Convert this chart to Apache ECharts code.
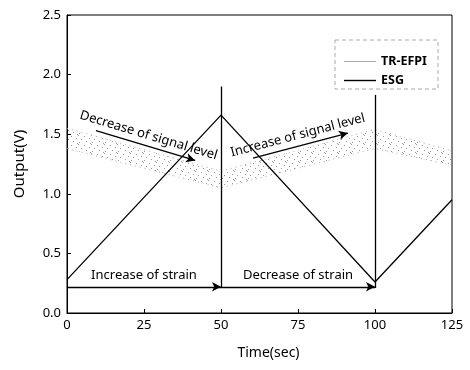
<!DOCTYPE html>
<html><head><meta charset="utf-8">
<script src="https://cdn.jsdelivr.net/npm/echarts@6/dist/echarts.min.js"></script>
<style>html,body{margin:0;padding:0;background:#fff}#c{width:470px;height:370px}</style>
</head><body><div id="c"></div>
<script>
// Data
const timeKnots = [0, 50, 100, 125];
const esgValues = [0.28, 1.66, 0.26, 0.95];
const efpiUpper = [1.55, 1.19, 1.54, 1.36];
const efpiLower = [1.38, 1.05, 1.38, 1.24];
const xTicks = [0, 25, 50, 75, 100, 125];
const yTicks = [0.0, 0.5, 1.0, 1.5, 2.0, 2.5];
const strainLevel = 0.22;
const markerTops = [[50, 1.9], [100, 1.83]];
const arrowDecrease = [[9.4, 1.53], [41.6, 1.28]];
const arrowIncrease = [[60.4, 1.30], [91.2, 1.51]];

const FONT = 'Noto Sans';

// speckle pattern for the band
const pat = document.createElement('canvas');
pat.width = 13; pat.height = 9;
const pc = pat.getContext('2d');
pc.fillStyle = '#9a9a9a';
[[0,0],[6,1],[11,3],[3,4],[8,6],[1,7],[12,8]].forEach(p => pc.fillRect(p[0], p[1], 1, 1));

const pairs = (xs, ys) => xs.map((x, i) => [x, ys[i]]);
const bandRows = timeKnots.map((t, i) => [t, efpiLower[i], efpiUpper[i]]);

const chart = echarts.init(document.getElementById('c'), null, {renderer: 'canvas'});
chart.setOption({
  animation: false,
  backgroundColor: '#fff',
  textStyle: {fontFamily: FONT, color: '#000'},
  grid: {left: 67, right: 18, top: 15, bottom: 57, show: true, borderColor: '#000', borderWidth: 1},
  legend: {
    orient: 'vertical', left: 339, top: 50, itemGap: 6, itemWidth: 32, itemHeight: 10,
    textStyle: {fontFamily: FONT, fontSize: 12.5, fontWeight: 'bold', color: '#000'},
    data: [
      {name: 'TR-EFPI', icon: 'path://M0,0H32V1H0Z', itemStyle: {color: '#aaa'}},
      {name: 'ESG', icon: 'path://M0,0H32V1.4H0Z', itemStyle: {color: '#000'}}
    ]
  },
  graphic: [{
    type: 'rect', shape: {x: 335, y: 40, width: 103, height: 49},
    style: {fill: null, stroke: '#aaa', lineWidth: 1, lineDash: [4, 3]}, z: 10
  }],
  xAxis: {
    type: 'value', min: 0, max: 125, interval: 25,
    name: 'Time(sec)', nameLocation: 'middle', nameGap: 33,
    nameTextStyle: {fontFamily: FONT, fontSize: 14, color: '#000', padding: [0, 0, 0, 18]},
    axisLine: {lineStyle: {color: '#000', width: 1}},
    axisTick: {inside: true, length: 4, lineStyle: {color: '#000'}},
    axisLabel: {fontFamily: FONT, fontSize: 13, color: '#000', margin: 6,
      formatter: v => xTicks.includes(v) ? String(v) : ''},
    splitLine: {show: false}
  },
  yAxis: {
    type: 'value', min: 0, max: 2.5, interval: 0.5,
    name: 'Output(V)', nameLocation: 'middle', nameGap: 40,
    nameTextStyle: {fontFamily: FONT, fontSize: 15, color: '#000'},
    axisLine: {lineStyle: {color: '#000', width: 1}},
    axisTick: {inside: true, length: 4, lineStyle: {color: '#000'}},
    axisLabel: {fontFamily: FONT, fontSize: 13, color: '#000', margin: 6,
      formatter: v => yTicks.includes(v) ? v.toFixed(1) : ''},
    splitLine: {show: false}
  },
  series: [
    {
      name: 'TR-EFPI', type: 'custom', coordinateSystem: 'cartesian2d',
      data: [0], itemStyle: {color: '#aaa'}, silent: true,
      renderItem: function (params, api) {
        const up = bandRows.map(r => api.coord([r[0], r[2]]));
        const lo = bandRows.map(r => api.coord([r[0], r[1]]));
        const poly = up.concat(lo.slice().reverse());
        return {
          type: 'group',
          children: [
            {type: 'polygon', shape: {points: poly}, style: {fill: {image: pat, repeat: 'repeat'}, stroke: null}},
            {type: 'polyline', shape: {points: up}, style: {fill: null, stroke: '#aaa', lineWidth: 1, lineDash: [1, 4]}},
            {type: 'polyline', shape: {points: lo}, style: {fill: null, stroke: '#aaa', lineWidth: 1, lineDash: [1, 4]}}
          ]
        };
      }
    },
    {
      name: 'ESG', type: 'line', symbol: 'none', z: 5,
      data: pairs(timeKnots, esgValues),
      lineStyle: {color: '#000', width: 1.3},
      itemStyle: {color: '#000'},
      markLine: {
        silent: true, symbolSize: [7, 9],
        lineStyle: {color: '#000', width: 1.3, type: 'solid'},
        label: {show: false},
        data: [
          [{coord: markerTops[0], symbol: 'none'}, {coord: [markerTops[0][0], strainLevel - 0.01], symbol: 'none'}],
          [{coord: markerTops[1], symbol: 'none'}, {coord: [markerTops[1][0], strainLevel - 0.01], symbol: 'none'}],
          [{coord: [0, strainLevel], symbol: 'none'}, {coord: [50, strainLevel], symbol: 'arrow',
            label: {show: true, position: 'middle', formatter: 'Increase of strain', fontFamily: FONT, fontSize: 13, color: '#000', distance: 5}}],
          [{coord: [50, strainLevel], symbol: 'none'}, {coord: [100, strainLevel], symbol: 'arrow',
            label: {show: true, position: 'middle', formatter: 'Decrease of strain', fontFamily: FONT, fontSize: 13, color: '#000', distance: 5}}],
          [{coord: arrowDecrease[0], symbol: 'none'}, {coord: arrowDecrease[1], symbol: 'arrow',
            label: {show: true, position: 'middle', formatter: 'Decrease of signal level', fontFamily: FONT, fontSize: 13, color: '#000', distance: 4}}],
          [{coord: arrowIncrease[0], symbol: 'none'}, {coord: arrowIncrease[1], symbol: 'arrow',
            label: {show: true, position: 'middle', formatter: 'Increase of signal level', fontFamily: FONT, fontSize: 13, color: '#000', distance: 4}}]
        ]
      }
    }
  ]
});
</script></body></html>
